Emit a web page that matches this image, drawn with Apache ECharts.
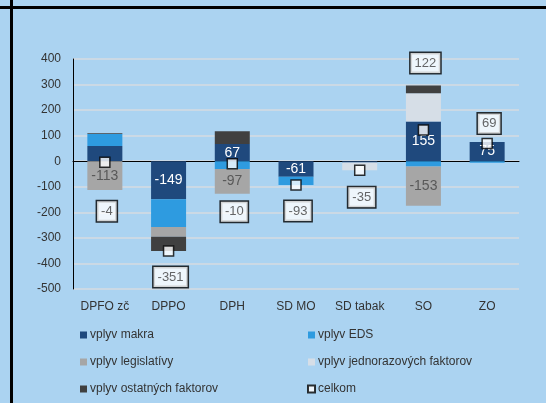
<!DOCTYPE html>
<html lang="sk">
<head>
    <meta charset="UTF-8">
    <title>Vplyvy na dane</title>
    <script src="https://cdn.jsdelivr.net/npm/echarts@6/dist/echarts.min.js"></script>
    <style>
        *{
            margin: 0;
            padding: 0;
        }
        html, body{
            width: 100%;
            height: 100%;
            overflow: hidden;
            background: #abd3f1;
        }
        .container{
            position: absolute;
            left: 0;
            top: 0;
            width: 546px;
            height: 403px;
        }
        .vline{
            position: absolute;
            left: 10px;
            top: 0;
            width: 3px;
            height: 403px;
            background: #000;
            z-index: 2;
        }
        .hline{
            position: absolute;
            left: 0;
            top: 6px;
            width: 546px;
            height: 3px;
            background: #000;
            z-index: 2;
        }
    </style>
</head>
<body>
<div class="container"></div>
<div class="vline"></div>
<div class="hline"></div>
<script>
    // kategorie dani
    let categories = ['DPFO zč', 'DPPO', 'DPH', 'SD MO', 'SD tabak', 'SO', 'ZO'];

    let makra        = [60, -149, 67, -61, -5, 155, 75];
    let eds          = [47, -108, -30, -32, 0, -21, -6];
    let legislativa  = [-113, -39, -97, 0, 0, -153, 0];
    let jednorazove  = [0, 0, 0, 0, -30, 111, 0];
    let ostatne      = [2, -55, 50, 0, 0, 30, 0];
    let celkom       = [-4, -351, -10, -93, -35, 122, 69];

    // posun popisov celkom (px), len rozlozenie
    let celkomShift = [49, 26, 48, 26, 27, -67, -20];

    let font = "'Liberation Sans Narrow', 'Liberation Sans', Arial, sans-serif";

    let container = document.querySelector('.container');
    let mycharts = echarts.init(container);

    function barSeries(name, data, color, labelColor, minAbs) {
        return {
            name: name,
            type: 'bar',
            stack: 'spolu',
            barWidth: 35,
            data: data,
            itemStyle: {color: color},
            label: {
                show: true,
                position: 'inside',
                color: labelColor,
                fontFamily: font,
                fontSize: 14,
                formatter: function (p) {
                    return Math.abs(p.value) >= minAbs ? p.value : '';
                }
            }
        };
    }

    let series = [
        barSeries('vplyv makra', makra, '#1f497d', '#ffffff', 61),
        barSeries('vplyv EDS', eds, '#2e9be0', '#ffffff', 1000),
        barSeries('vplyv legislatívy', legislativa, '#a6a6a6', '#595959', 90),
        barSeries('vplyv jednorazových faktorov', jednorazove, '#d6dee7', '#595959', 1000),
        barSeries('vplyv ostatných faktorov', ostatne, '#404040', '#ffffff', 1000),
        {
            name: 'celkom',
            type: 'scatter',
            symbol: 'rect',
            symbolSize: 10,
            z: 5,
            itemStyle: {
                color: '#ffffff',
                borderColor: '#000000',
                borderWidth: 1.5
            },
            data: celkom.map((v, i) => ({
                value: v,
                label: {offset: [2, celkomShift[i]]}
            })),
            label: {
                show: true,
                position: 'inside',
                color: '#404040',
                fontFamily: font,
                fontSize: 13,
                backgroundColor: '#ffffff',
                borderColor: '#000000',
                borderWidth: 1.5,
                padding: [4, 4, 3, 4]
            }
        }
    ];

    let legendCommon = {
        orient: 'vertical',
        icon: 'rect',
        itemWidth: 7,
        itemHeight: 7,
        itemGap: 15,
        textStyle: {
            color: '#333',
            fontFamily: font,
            fontSize: 12,
            padding: [0, 0, 0, -2]
        },
        top: 324
    };

    let options = {
        backgroundColor: '#abd3f1',
        animation: false,
        grid: {
            left: 73,
            right: 27,
            top: 59,
            bottom: 114
        },
        legend: [
            Object.assign({}, legendCommon, {
                left: 75,
                data: ['vplyv makra', 'vplyv legislatívy', 'vplyv ostatných faktorov']
            }),
            Object.assign({}, legendCommon, {
                left: 302,
                data: ['vplyv EDS', 'vplyv jednorazových faktorov', 'celkom']
            })
        ],
        xAxis: {
            type: 'category',
            data: categories,
            axisLine: {onZero: true, lineStyle: {color: '#000', width: 1}},
            axisTick: {show: false},
            axisLabel: {
                color: '#333',
                fontFamily: font,
                fontSize: 12,
                margin: 12,
                interval: 0
            }
        },
        yAxis: {
            type: 'value',
            min: -500,
            max: 400,
            interval: 100,
            axisLine: {show: true, lineStyle: {color: '#000', width: 1}},
            axisTick: {show: false},
            splitLine: {lineStyle: {color: '#d6dbe0', width: 1.5}},
            axisLabel: {
                color: '#333',
                fontFamily: font,
                fontSize: 12,
                margin: 12
            }
        },
        series
    };

    mycharts.setOption(options);
</script>
</body>
</html>
